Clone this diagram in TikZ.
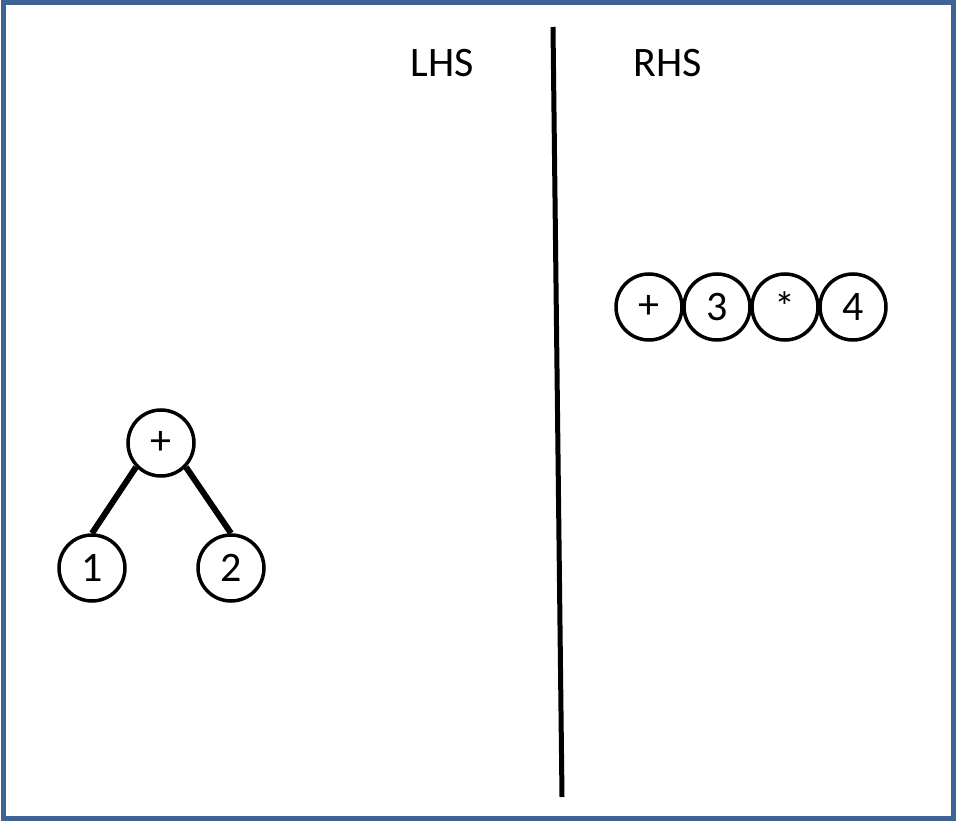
\documentclass[tikz,border=0pt]{standalone}
\usepackage{fontspec}
\setmainfont{Carlito}
\definecolor{framecolor}{RGB}{63,99,148}
\tikzset{
  term/.style = {circle, draw = black, line width = 3.5pt, minimum size = 66pt, inner sep = 0pt, font = \fontsize{42}{48}\selectfont},
  side/.style = {font = \fontsize{42}{50}\selectfont},
  branch/.style = {line width = 6pt}
}
\begin{document}
\begin{tikzpicture}[x = 1pt, y = -1pt]
\useasboundingbox (0,0) rectangle (956,821);
\draw[color = framecolor, line width = 5pt] (3,3) rectangle (953,818);
\coordinate (divtop) at (553,27);
\coordinate (divbot) at (562,797);
\draw[line width = 5pt] (divtop) -- (divbot);
\node[side] (lhs) at (442,63) {LHS};
\node[side] (rhs) at (668,63) {RHS};
\node[term] (plus) at (161,443) {+};
\node[term] (one) at (92,568) {1};
\node[term] (two) at (231,568) {2};
\draw[branch] (plus.224) -- (one.north);
\draw[branch] (plus.-44) -- (two.north);
\pgfmathsetmacro\pitch{68};
\foreach \n/\t in {0/+,1/3,2/*,3/4} \node[term] (r\n) at (649+\pitch*\n,307) {\t};
\end{tikzpicture}
\end{document}
